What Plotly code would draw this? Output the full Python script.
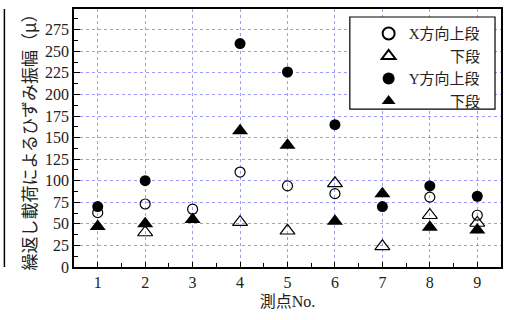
import plotly.graph_objects as go

# measuring points
points = [1, 2, 3, 4, 5, 6, 7, 8, 9]

# strain amplitude under repeated loading (μ)
x_upper = [63, 73, 67, 110, 94, 85, None, 81, 60]
x_lower = [None, 40, None, 52, 42, 97, 24, 60, 51]
y_upper = [70, 100, None, 259, 226, 165, 70, 94, 82]
y_lower = [47, 50, 55, 158, 141, 53, 85, 46, 43]

series_names = ["X方向上段", "\u3000\u3000\u2002 下段", "Y方向上段", "\u3000\u3000\u2002 下段"]

x_ticks = points
y_ticks = [0, 25, 50, 75, 100, 125, 150, 175, 200, 225, 250, 275]

FONT = "Liberation Serif, 'DejaVu Serif', 'Noto Sans CJK JP', serif"
CJK_FONT = "'Noto Sans CJK JP', sans-serif"
INK = "#222"

styles = [
    dict(symbol="circle-open", size=10, color="black", line=dict(width=1.2, color="black")),
    dict(symbol="triangle-up-open", size=13, color="black", line=dict(width=1.2, color="black")),
    dict(symbol="circle", size=11, color="black", line=dict(width=0, color="black")),
    dict(symbol="triangle-up", size=14, color="black", line=dict(width=0, color="black")),
]

fig = go.Figure()
for name, vals, st in zip(series_names, [x_upper, x_lower, y_upper, y_lower], styles):
    fig.add_trace(go.Scatter(x=points, y=vals, mode="markers", name=name, marker=st))

grid = "rgba(120,120,255,0.75)"

fig.update_xaxes(
    range=[0.5, 9.5], tickmode="array", tickvals=x_ticks, ticks="inside", ticklen=5,
    tickcolor="black", showline=True, linecolor="black", linewidth=1.5, mirror=True,
    showgrid=True, gridcolor=grid, griddash="dot", gridwidth=1, zeroline=False,
    minor=dict(dtick=0.5, tick0=0.5, ticks="inside", ticklen=4, tickcolor="black", showgrid=False),
    title=dict(text="測点No.", font=dict(size=16, family=FONT, color=INK), standoff=6),
    tickfont=dict(size=16, family=FONT, color=INK),
)
fig.update_yaxes(
    range=[0, 299], tickmode="array", tickvals=y_ticks, ticks="inside", ticklen=6,
    tickcolor="black", showline=True, linecolor="black", linewidth=1.5, mirror=True,
    showgrid=True, gridcolor=grid, griddash="dot", gridwidth=1, zeroline=False,
    minor=dict(dtick=12.5, tick0=0, ticks="inside", ticklen=4, tickcolor="black", showgrid=False),
    title=dict(text="繰返し載荷によるひずみ振幅（μ）", font=dict(size=17, family=CJK_FONT, color=INK), standoff=4),
    tickfont=dict(size=16, family=FONT, color=INK),
)

# edge of the neighbouring panel
fig.add_shape(type="line", xref="paper", yref="paper", x0=-0.163, x1=-0.163, y0=0, y1=1,
              line=dict(color="black", width=1.5))

# legend frame
fig.add_shape(type="rect", xref="paper", yref="paper", x0=0.646, x1=0.986, y0=0.612, y1=0.969,
              line=dict(color="black", width=1.2), fillcolor="white", layer="above")

fig.update_layout(
    width=509, height=320,
    margin=dict(l=74, r=6, t=9, b=53),
    paper_bgcolor="white", plot_bgcolor="white",
    font=dict(family=FONT, color=INK),
    legend=dict(
        x=0.69, y=0.968, xanchor="left", yanchor="top",
        bgcolor="rgba(0,0,0,0)", borderwidth=0,
        font=dict(size=15, family=FONT, color=INK),
        tracegroupgap=0, itemsizing="constant",
    ),
)

fig.write_html("out.html")
